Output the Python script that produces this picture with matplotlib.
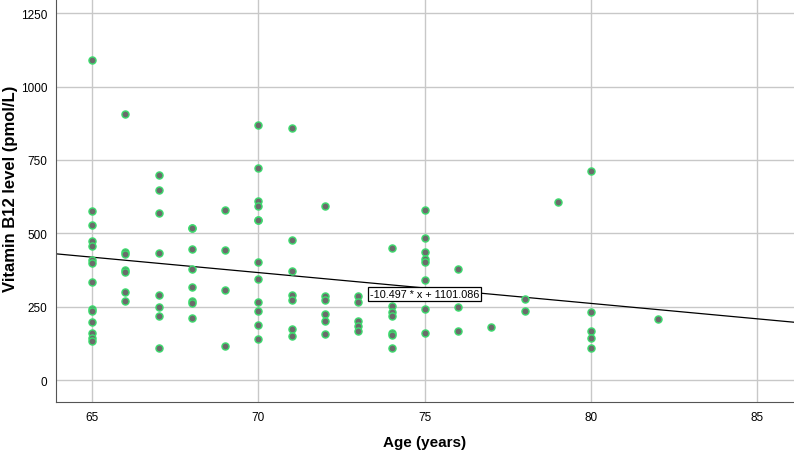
import numpy as np
import matplotlib
matplotlib.use('Agg')
from matplotlib import pyplot as plt

plt.rcParams['font.family'] = ['Liberation Sans', 'DejaVu Sans']

# ages and vitamin B12 values
age = [65]*14 + [66]*7 + [67]*8 + [68]*8 + [69]*4 + [70]*12 + [71]*7 + \
      [72]*6 + [73]*5 + [74]*7 + [75]*8 + [76]*3 + [77] + [78]*2 + [79] + [80]*5 + [82]
b12 = [1090, 575, 530, 474, 457, 409, 400, 335, 244, 235, 198, 162, 143, 134,
       905, 437, 428, 374, 367, 301, 268,
       699, 646, 570, 432, 290, 248, 218, 109,
       519, 446, 378, 317, 270, 262, 212, 517,
       578, 444, 307, 117,
       868, 724, 610, 592, 546, 402, 346, 265, 235, 187, 141, 545,
       859, 478, 372, 290, 272, 173, 149,
       593, 287, 273, 224, 200, 158,
       287, 265, 203, 183, 168,
       449, 253, 233, 217, 162, 153, 109,
       581, 485, 437, 412, 401, 341, 243, 161,
       378, 248, 166,
       181,
       275, 236,
       606,
       713, 232, 167, 144, 109,
       207]

slope = -10.497
intercept = 1101.086
fit_label = '-10.497 * x + 1101.086'

xlim = (63.9, 86.1)
ylim = (-75, 1298)

fig = plt.figure(figsize=(7.94, 4.52), dpi=100)
ax = fig.add_axes([0.070, 0.108, 0.930, 0.892])

ax.grid(True, color='#c8c8c8', linewidth=1)
ax.set_axisbelow(True)

ax.scatter(age, b12, s=26, c='#6b6b6b', edgecolors='#3ddc6e', linewidths=1, zorder=3)

xx = np.array(xlim)
ax.plot(xx, slope * xx + intercept, color='black', linewidth=0.9, zorder=2)
ax.text(75, 293, fit_label, fontsize=7.8, ha='center', va='center', zorder=4,
        bbox=dict(boxstyle='square,pad=0.15', fc='white', ec='black', lw=0.9))

ax.set_xlim(xlim)
ax.set_ylim(ylim)
ax.set_xticks([65, 70, 75, 80, 85])
ax.set_yticks([0, 250, 500, 750, 1000, 1250])
ax.tick_params(length=0, labelsize=8.5, pad=6)
for s in ['top', 'right']:
    ax.spines[s].set_visible(False)
for s in ['left', 'bottom']:
    ax.spines[s].set_color('#555555')

ax.set_xlabel('Age (years)', fontsize=11, fontweight='bold', va='center')
ax.set_ylabel('Vitamin B12 level (pmol/L)', fontsize=12, fontweight='bold', va='center')
ax.xaxis.set_label_coords(0.5, -0.098)
ax.yaxis.set_label_coords(-0.061, 0.532)

fig.savefig('out.png', dpi=100)
